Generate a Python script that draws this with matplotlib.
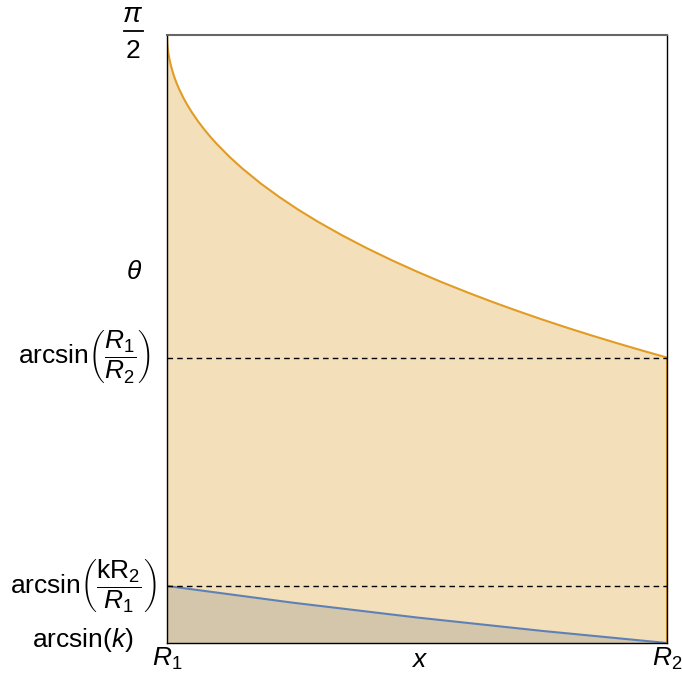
import numpy as np
import matplotlib.pyplot as plt
import matplotlib.transforms as mtransforms
from matplotlib.lines import Line2D

plt.rcParams['font.family'] = ['Liberation Sans', 'DejaVu Sans']
plt.rcParams['mathtext.fontset'] = 'custom'
plt.rcParams['mathtext.rm'] = 'Liberation Sans'
plt.rcParams['mathtext.it'] = 'Liberation Sans:italic'

# values (R1 = 1, R2 = 1.2, k ~ 0.45)
x_upper = [1.0, 1.0001, 1.0003, 1.0006, 1.001, 1.0015, 1.0025, 1.0032, 1.004, 1.005,
           1.0065, 1.008, 1.01, 1.0125, 1.015, 1.0175, 1.02, 1.025, 1.03, 1.0375,
           1.045, 1.0525, 1.06, 1.07, 1.08, 1.09, 1.10, 1.11, 1.12, 1.13,
           1.14, 1.15, 1.16, 1.17, 1.18, 1.19, 1.2]
theta_upper = [1.5708, 1.5567, 1.5463, 1.5362, 1.5261, 1.5161, 1.5002, 1.4909, 1.4815, 1.4710,
               1.4571, 1.4447, 1.4300, 1.4135, 1.3987, 1.3851, 1.3725, 1.3495, 1.3289, 1.3011,
               1.2763, 1.2536, 1.2327, 1.2071, 1.1835, 1.1616, 1.1411, 1.1218, 1.1037, 1.0864,
               1.0700, 1.0543, 1.0393, 1.0250, 1.0112, 0.9979, 0.9851]
x_lower = [1.0, 1.05, 1.1, 1.15, 1.2]
theta_lower = [0.5704, 0.5402, 0.5131, 0.4888, 0.4668]

ytick_vals = [0.4668, 0.5704, 0.9851]
ytick_labels = [r'$\mathrm{arcsin}(k)$',
                r'$\mathrm{arcsin}\left(\dfrac{\mathrm{kR}_2}{R_1}\right)$',
                r'$\mathrm{arcsin}\left(\dfrac{R_1}{R_2}\right)$']
xtick_vals = [1.0, 1.2]
xtick_labels = [r'$R_1$', r'$R_2$']

orange = '#E19C24'
blue = '#5E81B5'

W, H = 682, 677
fig = plt.figure(figsize=(W / 100, H / 100), dpi=100)
ax = fig.add_axes([0.2449, 0.0502, 0.7332, 0.8981])

ybot = theta_lower[-1]
ax.fill_between(x_upper, ybot, theta_upper, color='#F4DFBB', lw=0)
ax.fill_between(x_lower, ybot, theta_lower, color='#D4C6AB', lw=0)
ax.plot(x_upper, theta_upper, color=orange, lw=1.5)
ax.plot(x_lower, theta_lower, color=blue, lw=1.5)
ax.plot([x_upper[0], x_upper[0]], [ybot, theta_upper[0]], color=orange, lw=1.5)
ax.plot([x_upper[-1], x_upper[-1]], [ybot, theta_upper[-1]], color=orange, lw=1.5)

for yv in ytick_vals[1:]:
    ax.axhline(yv, color='black', lw=1, ls=(0, (4, 3)))

ax.set_xlim(xtick_vals[0], xtick_vals[1])
ax.set_ylim(ybot, theta_upper[0])

ax.set_yticks([])
ax.set_xticks(xtick_vals)
ax.set_xticklabels(xtick_labels, fontsize=19)
ax.tick_params(length=0, pad=2)

# y labels placed by hand (centred in the left margin like the original)
trans = mtransforms.blended_transform_factory(fig.transFigure, ax.transData)
label_x = [83 / W, 83 / W, 84 / W]
label_dy = [0.006, 0, 0]
for lx, yv, dy, lab in zip(label_x, ytick_vals, label_dy, ytick_labels):
    ax.text(lx, yv + dy, lab, transform=trans, fontsize=19,
            ha='center', va='center')

# pi/2 at the top, as a tall fraction
fig.text(133 / W, 1 - 15 / H, r'$\pi$', fontsize=20, ha='center', va='center')
fig.add_artist(Line2D([124 / W, 143 / W], [1 - 31 / H, 1 - 31 / H],
                      transform=fig.transFigure, color='black', lw=1.3))
fig.text(133 / W, 1 - 51 / H, '2', fontsize=19, ha='center', va='center')

ax.text(-0.066, 0.61, r'$\theta$', transform=ax.transAxes, fontsize=19,
        ha='center', va='center')
ax.text(0.505, -0.028, r'$x$', transform=ax.transAxes, fontsize=19,
        ha='center', va='center')

for s in ['left', 'right', 'bottom']:
    ax.spines[s].set_color('black')
    ax.spines[s].set_linewidth(1)
ax.spines['top'].set_color('#666666')
ax.spines['top'].set_linewidth(1.5)

fig.savefig('out.png', dpi=100)
